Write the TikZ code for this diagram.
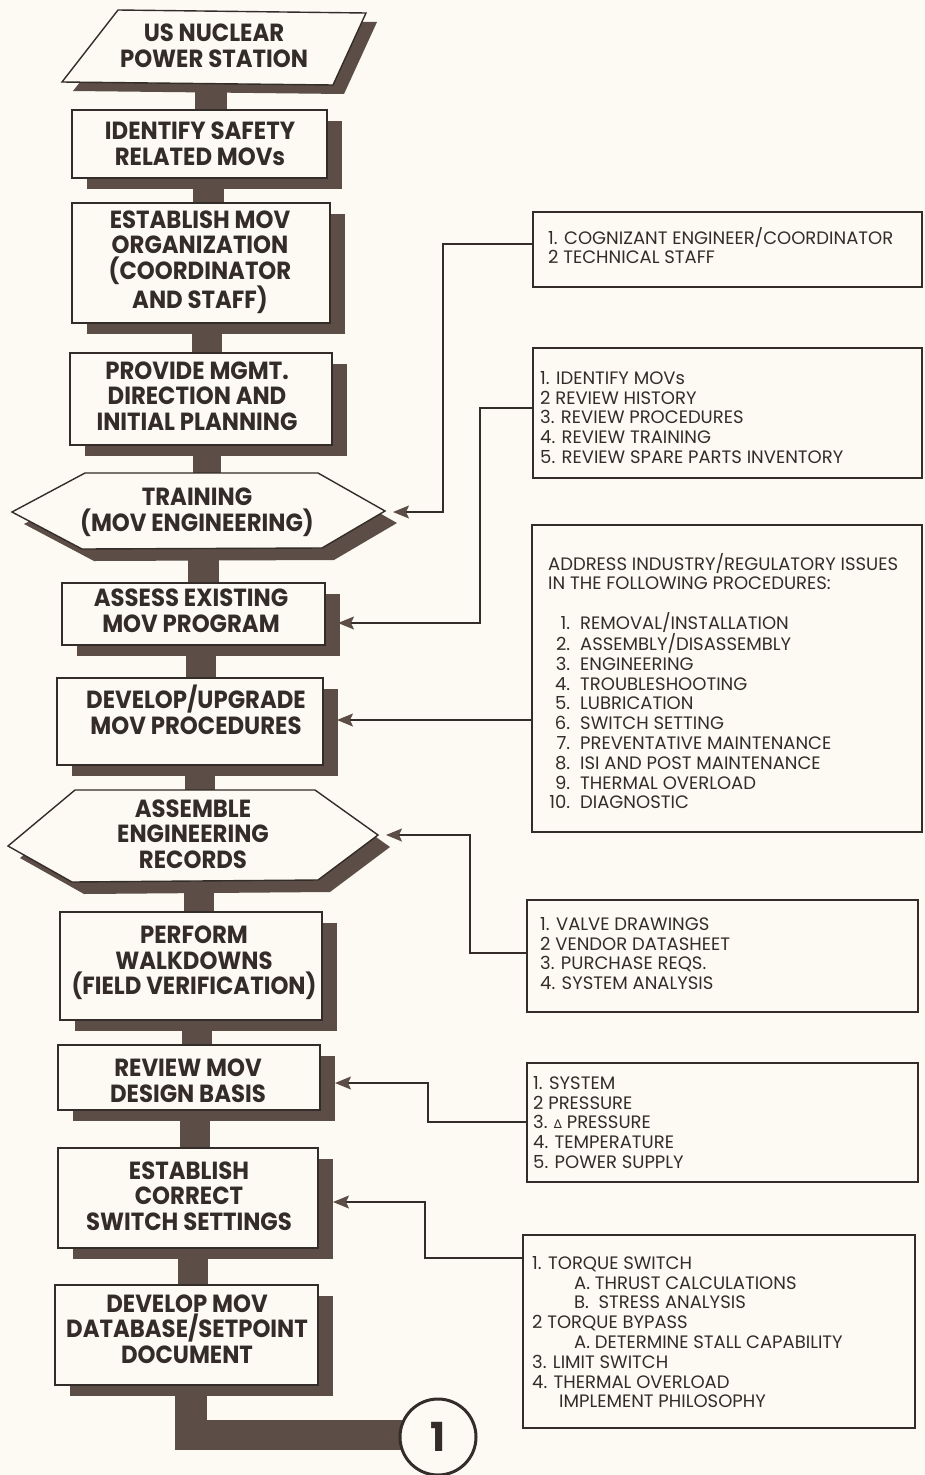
\documentclass[tikz,border=0pt]{standalone}
\usepackage{fontspec}
\setmainfont{Poppins}
\newfontfamily\flowfont{Poppins}[FakeStretch=0.92]
\newfontfamily\listfont{Poppins}
\newfontfamily\numfont{Poppins}
\newfontfamily\symfont{DejaVu Sans}
\usetikzlibrary{arrows.meta}
\definecolor{paper}{RGB}{252,250,243}
\definecolor{shadowc}{RGB}{92,78,70}
\definecolor{ink}{RGB}{52,44,40}
\newcommand\flowrect[5]{%
  \fill[shadowc] (#2+15,#3+11) rectangle (#4+15,#5+11);
  \node[flowbox,minimum width={#4-#2},minimum height={#5-#3}] (#1) at ({(#2+#4)/2},{(#3+#5)/2}) {};}
\newcommand\listrect[5]{%
  \node[listbox,minimum width={#4-#2},minimum height={#5-#3}] (#1) at ({(#2+#4)/2},{(#3+#5)/2}) {};}
\begin{document}
\begin{tikzpicture}[x=1pt,y=-1pt,
  flowbox/.style={draw=ink,line width=1.4pt,fill=paper,inner sep=0pt},
  listbox/.style={draw=ink,line width=1.3pt,fill=paper,inner sep=0pt},
  flowshape/.style={draw=ink,line width=1.4pt,fill=paper},
  flowtext/.style={font=\flowfont\bfseries\fontsize{24.8}{25.6}\selectfont,text=ink,align=center,inner sep=0pt},
  listtext/.style={font=\listfont\fontsize{18}{19.8}\selectfont,text=ink,align=left,inner sep=0pt,anchor=north west},
  conn/.style={draw=ink,line width=1.5pt},
  arr/.style={conn,-{Stealth[length=16pt,width=13pt,inset=3pt,color=shadowc]}},
  stemfill/.style={fill=shadowc}]
\fill[paper] (0,0) rectangle (925,1475);
\useasboundingbox (0,0) rectangle (925,1475);
% stems
\fill[stemfill] (195,80) rectangle (227,115);
\fill[stemfill] (193,175) rectangle (224,208);
\fill[stemfill] (192,320) rectangle (222,358);
\fill[stemfill] (193,440) rectangle (221,478);
\fill[stemfill] (188,545) rectangle (219,588);
\fill[stemfill] (186,642) rectangle (216,683);
\fill[stemfill] (185,762) rectangle (215,795);
\fill[stemfill] (184,878) rectangle (214,917);
\fill[stemfill] (182,1018) rectangle (212,1050);
\fill[stemfill] (180,1108) rectangle (210,1153);
\fill[stemfill] (178,1246) rectangle (208,1290);
\fill[stemfill] (175,1385) rectangle (207,1450);
\fill[stemfill] (175,1420) rectangle (420,1450);
% parallelogram
\fill[shadowc] (129,19) -- (377,22) -- (344,94) -- (73,91) -- cycle;
\draw[flowshape] (118,10) -- (366,13) -- (333,85) -- (62,82) -- cycle;
\node[flowtext] (usn) at (214,46) {US NUCLEAR\\POWER STATION};
% boxes
\flowrect{idf}{72}{110}{327}{178}
\node[flowtext] (idft) at (200,144) {IDENTIFY SAFETY\\RELATED MOVs};
\flowrect{est}{72}{203}{330}{323}
\node[flowtext] (estt) at (200,262) {ESTABLISH MOV\\ORGANIZATION\\(COORDINATOR\\AND STAFF)};
\flowrect{prv}{70}{353}{332}{445}
\node[flowtext] (prvt) at (197,396) {PROVIDE MGMT.\\DIRECTION AND\\INITIAL PLANNING};
% training hexagon
\fill[shadowc] (97,485) -- (330,485) -- (397,523) -- (334,560) -- (94,561) -- (24,524) -- cycle;
\draw[flowshape] (85,473) -- (318,473) -- (385,511) -- (322,548) -- (82,549) -- (12,512) -- cycle;
\node[flowtext] (trn) at (197,512) {TRAINING\\(MOV ENGINEERING)};
\flowrect{asx}{62}{583}{325}{645}
\node[flowtext] (asxt) at (191,611) {ASSESS EXISTING\\MOV PROGRAM};
\flowrect{dev}{57}{678}{323}{765}
\node[flowtext] (devt) at (196,710) {DEVELOP/UPGRADE\\MOV PROCEDURES};
% assemble hexagon
\fill[shadowc] (87,802) -- (327,802) -- (390,847) -- (330,892) -- (84,894) -- (20,858) -- cycle;
\draw[flowshape] (75,790) -- (315,790) -- (378,835) -- (318,880) -- (72,882) -- (8,846) -- cycle;
\node[flowtext] (asm) at (193,834) {ASSEMBLE\\ENGINEERING\\RECORDS};
\flowrect{pfw}{60}{912}{322}{1020}
\node[flowtext] (pfwt) at (194,963) {PERFORM\\WALKDOWNS\\(FIELD VERIFICATION)};
\flowrect{rvw}{58}{1045}{320}{1110}
\node[flowtext] (rvwt) at (188,1081) {REVIEW MOV\\DESIGN BASIS};
\flowrect{ecs}{58}{1148}{318}{1248}
\node[flowtext] (ecst) at (189,1196) {ESTABLISH\\CORRECT\\SWITCH SETTINGS};
\flowrect{dmd}{55}{1285}{318}{1385}
\node[flowtext] (dmdt) at (187,1329) {DEVELOP MOV\\DATABASE/SETPOINT\\DOCUMENT};
% circle connector
\node[circle,draw=ink,line width=3pt,fill=paper,minimum size=76pt,inner sep=0pt,
  font=\numfont\bfseries\fontsize{40}{40}\selectfont,text=ink] (c1) at (438,1437) {1};
% right boxes
\listrect{A}{533}{212}{922}{287}
\node[listtext] (tA) at (548,227) {1. COGNIZANT ENGINEER/COORDINATOR\\2 TECHNICAL STAFF};
\listrect{B}{533}{348}{922}{478}
\node[listtext] (tB) at (540,371) {1. IDENTIFY MOVs\\2 REVIEW HISTORY\\3. REVIEW PROCEDURES\\4. REVIEW TRAINING\\5. REVIEW SPARE PARTS INVENTORY};
\listrect{C}{532}{525}{922}{832}
\node[listtext] (tC) at (548,553) {ADDRESS INDUSTRY/REGULATORY ISSUES\\IN THE FOLLOWING PROCEDURES:\\[19.8pt]
\makebox[22pt][r]{1.}\hspace{10pt}REMOVAL/INSTALLATION\\
\makebox[22pt][r]{2.}\hspace{10pt}ASSEMBLY/DISASSEMBLY\\
\makebox[22pt][r]{3.}\hspace{10pt}ENGINEERING\\
\makebox[22pt][r]{4.}\hspace{10pt}TROUBLESHOOTING\\
\makebox[22pt][r]{5.}\hspace{10pt}LUBRICATION\\
\makebox[22pt][r]{6.}\hspace{10pt}SWITCH SETTING\\
\makebox[22pt][r]{7.}\hspace{10pt}PREVENTATIVE MAINTENANCE\\
\makebox[22pt][r]{8.}\hspace{10pt}ISI AND POST MAINTENANCE\\
\makebox[22pt][r]{9.}\hspace{10pt}THERMAL OVERLOAD\\
\makebox[22pt][r]{10.}\hspace{10pt}DIAGNOSTIC};
\listrect{D}{527}{900}{918}{1012}
\node[listtext] (tD) at (540,917) {1. VALVE DRAWINGS\\2 VENDOR DATASHEET\\3. PURCHASE REQS.\\4. SYSTEM ANALYSIS};
\listrect{E}{527}{1063}{918}{1182}
\node[listtext] (tE) at (533,1076) {1. SYSTEM\\2 PRESSURE\\3. {\symfont\fontsize{12}{12}\selectfont ∆} PRESSURE\\4. TEMPERATURE\\5. POWER SUPPLY};
\listrect{F}{523}{1235}{915}{1428}
\node[listtext] (tF) at (532,1256) {1. TORQUE SWITCH\\
\hspace*{42pt}A. THRUST CALCULATIONS\\
\hspace*{42pt}B. \ STRESS ANALYSIS\\
2 TORQUE BYPASS\\
\hspace*{42pt}A. DETERMINE STALL CAPABILITY\\
3. LIMIT SWITCH\\
4. THERMAL OVERLOAD\\
\hspace*{27pt}IMPLEMENT PHILOSOPHY};
% connector end points
\coordinate (cA) at (533,244);
\coordinate (cB) at (533,408);
\coordinate (cC) at (532,720);
\coordinate (cD) at (527,953);
\coordinate (cE) at (527,1122);
\coordinate (cF) at (523,1258);
\coordinate (trnIn) at (393,512);
\coordinate (asxIn) at (338,623);
\coordinate (devIn) at (337,720);
\coordinate (asmIn) at (386,835);
\coordinate (rvwIn) at (335,1083);
\coordinate (ecsIn) at (333,1202);
% connectors
\draw[arr] (cA) -- ++(-90,0) |- (trnIn);
\draw[arr] (cB) -- ++(-53,0) |- (asxIn);
\draw[arr] (cC) -- (devIn);
\draw[arr] (cD) -- ++(-57,0) |- (asmIn);
\draw[arr] (cE) -- ++(-99,0) |- (rvwIn);
\draw[arr] (cF) -- ++(-98,0) |- (ecsIn);
\end{tikzpicture}
\end{document}
